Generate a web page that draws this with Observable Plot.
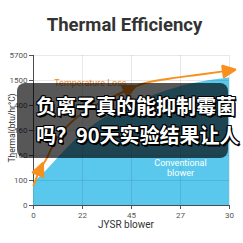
<!DOCTYPE html>
<html><head><meta charset="utf-8">
<script src="https://cdn.jsdelivr.net/npm/d3@7"></script>
<script src="https://cdn.jsdelivr.net/npm/@observablehq/plot@0.6"></script>
<style>
html,body{margin:0;padding:0;background:#fff;}
#wrap{position:relative;width:243px;height:243px;overflow:hidden;font-family:Roboto,"Noto Sans",sans-serif;}
#chart{position:absolute;left:0;top:0;}
#title{position:absolute;left:0;top:13px;width:249px;text-align:center;font-weight:700;font-size:18.5px;color:#333;line-height:24px;}
#xlabel{position:absolute;left:0;top:219px;width:252px;text-align:center;font-size:10px;color:#333;}
#ylabel{position:absolute;left:12px;top:128px;transform:translate(-50%,-50%) rotate(-90deg);font-size:8.5px;color:#333;white-space:nowrap;}
#overlay{position:absolute;left:17px;top:83px;width:211px;height:75px;background:rgba(0,0,0,0.66);border-radius:8px;}
#caption{position:absolute;left:36px;top:91px;font-family:"Noto Sans CJK SC",sans-serif;font-weight:700;font-size:20px;line-height:29px;color:#fff;white-space:nowrap;
  text-shadow:1px 1px 0 #000,-1px -1px 0 #000,1px -1px 0 #000,-1px 1px 0 #000,0 1px 0 #000,0 -1px 0 #000,1px 0 0 #000,-1px 0 0 #000,1.5px 1.5px 0 #000;}
</style>
</head><body>
<div id="wrap">
  <div id="chart"></div>
  <div id="title">Thermal Efficiency</div>
  <div id="xlabel">JYSR blower</div>
  <div id="ylabel">Thermal(btu/hr°C)</div>
  <div id="overlay"></div>
  <div id="caption">负离子真的能抑制霉菌<br>吗？90天实验结果让人</div>
</div>
<script>
const xTickLabels = ["0", "22", "45", "27", "30"];
const yTickLabels = ["0", "100", "160", "160", "400", "1500", "5700"];

// Temperature Loss series (x in tick-index units, y in tick-index units)
const lossX = [0, 0.143, 0.245, 0.449, 0.755, 1.163, 1.571, 1.98, 2.245, 2.796, 3.408, 4];
const lossY = [0.8, 1.48, 1.8, 2.6, 3.3, 3.9, 4.3, 4.68, 4.88, 5.08, 5.24, 5.4];
const arrowIndices = [1, 7, 11];

// Conventional blower series
const convX = [0, 0.245, 0.55, 0.96, 1.37, 1.98, 2.59, 3.2, 4];
const convY = [0.9, 1.35, 2.0, 2.8, 3.4, 4.0, 4.5, 4.85, 5.1];

const labels = [
  {x: 1.16, y: 4.92, text: "Temperature Loss", fill: "#f08a1c"},
  {x: 3.0, y: 1.52, text: "Conventional\nblower", fill: "#ffffff"}
];

const orange = "#f7901e";
const loss = lossX.map((x, i) => ({x, y: lossY[i]}));
const conv = convX.map((x, i) => ({x, y: convY[i]}));
const arrowSegs = arrowIndices.flatMap((k, g) => [
  {x: lossX[k - 1], y: lossY[k - 1], g},
  {x: lossX[k], y: lossY[k], g}
]);

const chart = Plot.plot({
  width: 243, height: 243,
  marginLeft: 33, marginRight: 14, marginTop: 55, marginBottom: 38,
  style: {background: "transparent", fontFamily: "Roboto, sans-serif", fontSize: "8px", color: "#555"},
  x: {domain: [0, xTickLabels.length - 1], ticks: xTickLabels.length - 1, tickFormat: i => xTickLabels[i], label: null, line: true, tickSize: 4, tickPadding: 3},
  y: {domain: [0, yTickLabels.length - 1], ticks: yTickLabels.length - 1, tickFormat: i => yTickLabels[i], label: null, line: true, tickSize: 4, tickPadding: 2},
  marks: [
    Plot.areaY(conv, {x: "x", y: "y", fill: "#5ac8ec", curve: "monotone-x"}),
    Plot.ruleX(d3.range(xTickLabels.length), {stroke: "#000", strokeOpacity: 0.09}),
    Plot.ruleY(d3.range(yTickLabels.length), {stroke: "#000", strokeOpacity: 0.09}),
    Plot.line(loss, {x: "x", y: "y", stroke: orange, strokeWidth: 2, curve: "monotone-x"}),
    Plot.line(arrowSegs, {x: "x", y: "y", z: "g", stroke: orange, strokeWidth: 2, markerEnd: "arrow"}),
    Plot.text(labels, {x: "x", y: "y", text: "text", fill: "fill", fontSize: 9, lineHeight: 1.15})
  ]
});
chart.querySelectorAll("marker").forEach(m => {
  m.setAttribute("markerWidth", 8);
  m.setAttribute("markerHeight", 8);
  m.setAttribute("fill", orange);
  m.setAttribute("stroke", orange);
  m.setAttribute("stroke-opacity", 1);
  const p = m.querySelector("path");
  if (p) { p.setAttribute("d", "M-4,-3.5L3.5,0L-4,3.5Z"); p.setAttribute("stroke-opacity", 1); p.setAttribute("fill-opacity", 1); }
});
chart.querySelectorAll("path[marker-end]").forEach(p => p.setAttribute("stroke-opacity", 0));
document.getElementById("chart").appendChild(chart);
</script>
</body></html>
